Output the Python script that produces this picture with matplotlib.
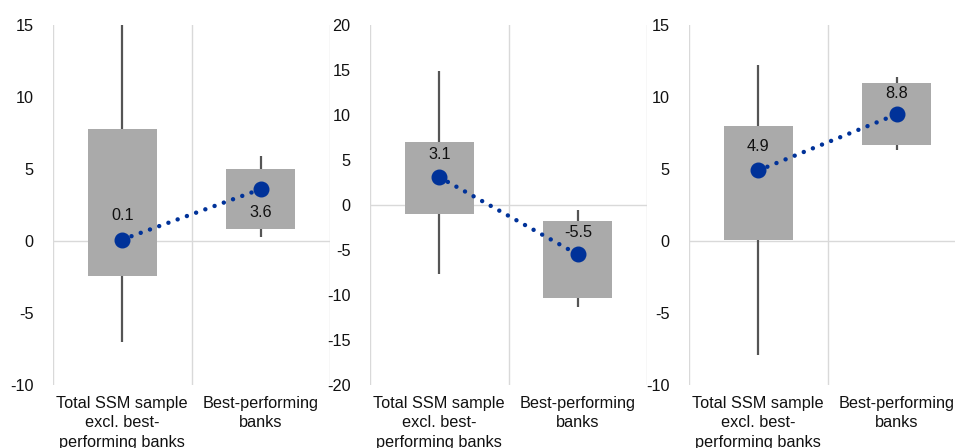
import matplotlib.pyplot as plt

plt.rcParams['font.family'] = ['Liberation Sans', 'DejaVu Sans']
plt.rcParams['axes.unicode_minus'] = False

categories = ['Total SSM sample\nexcl. best-\nperforming banks', 'Best-performing\nbanks']

# panel 1
p1_min = [-7.0, 0.3]
p1_q1 = [-2.4, 0.85]
p1_q3 = [7.8, 5.0]
p1_max = [15.0, 5.9]
p1_mid = [0.1, 3.6]

# panel 2
p2_min = [-7.7, -11.3]
p2_q1 = [-1.0, -10.3]
p2_q3 = [7.0, -1.8]
p2_max = [14.9, -0.6]
p2_mid = [3.1, -5.5]

# panel 3
p3_min = [-7.9, 6.3]
p3_q1 = [0.1, 6.65]
p3_q3 = [8.0, 11.0]
p3_max = [12.2, 11.4]
p3_mid = [4.9, 8.8]

panels = [
    (p1_min, p1_q1, p1_q3, p1_max, p1_mid, (-10, 15), [17, -17]),
    (p2_min, p2_q1, p2_q3, p2_max, p2_mid, (-20, 20), [16, 16]),
    (p3_min, p3_q1, p3_q3, p3_max, p3_mid, (-10, 15), [17, 15]),
]
lefts = [53, 370, 689]

fig = plt.figure(figsize=(9.55, 4.48), dpi=100)
W, H = 955, 448
grid_col = '#d9d9d9'
blue = '#003299'
fs = 11.7

for (mins, q1, q3, maxs, mid, ylim, offs), left in zip(panels, lefts):
    ax = fig.add_axes([left / W, 1 - 385 / H, 277 / W, 360 / H])
    x = range(len(categories))
    ax.vlines(x, mins, maxs, color='#555555', lw=1.6, zorder=1)
    ax.bar(x, [b - a for a, b in zip(q1, q3)], bottom=q1, width=0.5,
           color='#aaaaaa', zorder=2)
    ax.plot(x, mid, color=blue, lw=3.2, linestyle=(0, (0.01, 2.2)),
            dash_capstyle='round', zorder=3)
    ax.plot(x, mid, 'o', color=blue, ms=10.5, zorder=4)
    for xi, v, o in zip(x, mid, offs):
        ax.annotate(f'{v:.1f}', (xi, v), xytext=(0, o), textcoords='offset points',
                    ha='center', va='center', fontsize=fs, color='#111111', zorder=5)
    ax.axhline(0, color=grid_col, lw=1, zorder=0)
    for gx in [-0.5, 0.5, 1.5]:
        ax.axvline(gx, color=grid_col, lw=1, zorder=0)
    ax.set_xlim(-0.5, 1.5)
    ax.set_ylim(*ylim)
    ax.set_yticks(range(ylim[0], ylim[1] + 1, 5))
    ax.set_xticks(list(x))
    ax.set_xticklabels(categories, fontsize=fs, va='top', linespacing=1.35)
    ax.tick_params(length=0, labelsize=fs, colors='#111111')
    ax.tick_params(axis='y', pad=14)
    ax.tick_params(axis='x', pad=8)
    for s in ax.spines.values():
        s.set_visible(False)

plt.savefig('out.png', dpi=100)
